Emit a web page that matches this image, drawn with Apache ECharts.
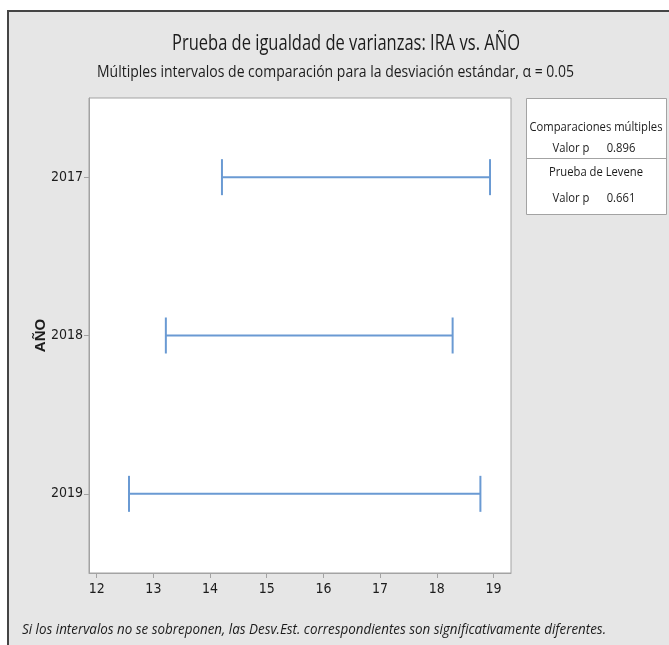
<!DOCTYPE html>
<html>
<head>
<meta charset="utf-8">
<script src="https://cdn.jsdelivr.net/npm/echarts@6/dist/echarts.min.js"></script>
<style>
html,body{margin:0;padding:0;background:#fff;}
#chart{width:669px;height:645px;}
</style>
</head>
<body>
<div id="chart"></div>
<script>
const years = ['2017', '2018', '2019'];
const lower = [14.21, 13.22, 12.57];
const upper = [18.94, 18.28, 18.77];
const xTicks = [12, 13, 14, 15, 16, 17, 18, 19];
const titleText = 'Prueba de igualdad de varianzas: IRA vs. AÑO';
const subText = 'Múltiples intervalos de comparación para la desviación estándar, α = 0.05';
const footText = 'Si los intervalos no se sobreponen, las Desv.Est. correspondientes son significativamente diferentes.';
const legendLines = ['Comparaciones múltiples', 'Valor p', '0.896', 'Prueba de Levene', 'Valor p', '0.661'];

const BASE = "'Open Sans', 'Noto Sans', sans-serif";
const AXFONT = "'DejaVu Sans Condensed', 'Noto Sans', sans-serif";
const LINE = '#6a9ad3';
const AX = '#a3a3a3';
const TXT = '#1c1c1c';

const mctx = document.createElement('canvas').getContext('2d');
function fit(text, font, target) {
  mctx.font = font;
  return target / mctx.measureText(text).width;
}

const fTitle = "21px " + BASE;
const fSub = "16px " + BASE;
const fFoot = "italic 15px " + BASE;
const fLeg = "13px " + BASE;
const sTitle = fit(titleText, fTitle, 348);
const sSub = fit(subText, fSub, 477);
const sFoot = fit(footText, fFoot, 584);
const sLeg = fit(legendLines[0], fLeg, 133);

function txt(text, font, x, y, sx, align) {
  return {type: 'text', z: 6, x: x, y: y, scaleX: sx,
    style: {text: text, font: font, fill: TXT, align: align || 'center', verticalAlign: 'middle'}};
}

const chart = echarts.init(document.getElementById('chart'), null, {renderer: 'canvas'});
const data = years.map((y, i) => [i, lower[i], upper[i]]);

const option = {
  backgroundColor: '#ffffff',
  animation: false,
  graphic: [
    {type: 'rect', z: -10, shape: {x: 8, y: 11, width: 680, height: 660},
     style: {fill: '#e6e6e6', stroke: '#454545', lineWidth: 2}},
    txt(titleText, fTitle, 346, 44, sTitle),
    txt(subText, fSub, 335.5, 72, sSub),
    {type: 'rect', z: 5, shape: {x: 526.5, y: 98.5, width: 140, height: 116},
     style: {fill: '#ffffff', stroke: AX, lineWidth: 1}},
    {type: 'line', z: 6, shape: {x1: 527, y1: 158.5, x2: 666, y2: 158.5}, style: {stroke: AX, lineWidth: 1}},
    txt(legendLines[0], fLeg, 596, 127, sLeg),
    txt(legendLines[1], fLeg, 571, 148, sLeg),
    txt(legendLines[2], fLeg, 621, 148, sLeg),
    txt(legendLines[3], fLeg, 596, 172, sLeg),
    txt(legendLines[4], fLeg, 571, 198, sLeg),
    txt(legendLines[5], fLeg, 621, 198, sLeg),
    txt(footText, fFoot, 22, 630, sFoot, 'left')
  ],
  grid: {
    left: 89, top: 98, width: 422, height: 475,
    show: true, backgroundColor: '#ffffff', borderColor: AX, borderWidth: 1,
    containLabel: false
  },
  xAxis: {
    type: 'value', min: 11.864, max: 19.31,
    splitLine: {show: false},
    axisLine: {show: true, onZero: false, lineStyle: {color: AX}},
    axisTick: {show: true, length: 5, lineStyle: {color: AX}, customValues: xTicks},
    axisLabel: {color: TXT, fontSize: 14, fontFamily: AXFONT, margin: 9, customValues: xTicks}
  },
  yAxis: {
    type: 'category', data: years, inverse: true,
    name: 'AÑO', nameLocation: 'middle', nameRotate: 90, nameGap: 41,
    nameMoveOverlap: false,
    nameTextStyle: {fontFamily: "'Liberation Sans', Arial, sans-serif", fontWeight: 'bold', fontSize: 15, color: TXT},
    axisLine: {show: true, lineStyle: {color: AX}},
    axisTick: {show: true, alignWithLabel: true, length: 5, lineStyle: {color: AX}},
    axisLabel: {color: TXT, fontSize: 14, fontFamily: AXFONT, margin: 6},
    splitLine: {show: false}
  },
  series: [{
    type: 'custom',
    data: data,
    encode: {x: [1, 2], y: 0},
    renderItem: function (params, api) {
      const idx = api.value(0);
      const lo = api.coord([api.value(1), idx]);
      const hi = api.coord([api.value(2), idx]);
      const h = 18;
      const st = {stroke: LINE, lineWidth: 2};
      return {type: 'group', children: [
        {type: 'line', shape: {x1: lo[0], y1: lo[1], x2: hi[0], y2: hi[1]}, style: st},
        {type: 'line', shape: {x1: lo[0], y1: lo[1] - h, x2: lo[0], y2: lo[1] + h}, style: st},
        {type: 'line', shape: {x1: hi[0], y1: hi[1] - h, x2: hi[0], y2: hi[1] + h}, style: st}
      ]};
    }
  }]
};
chart.setOption(option);
</script>
</body>
</html>
